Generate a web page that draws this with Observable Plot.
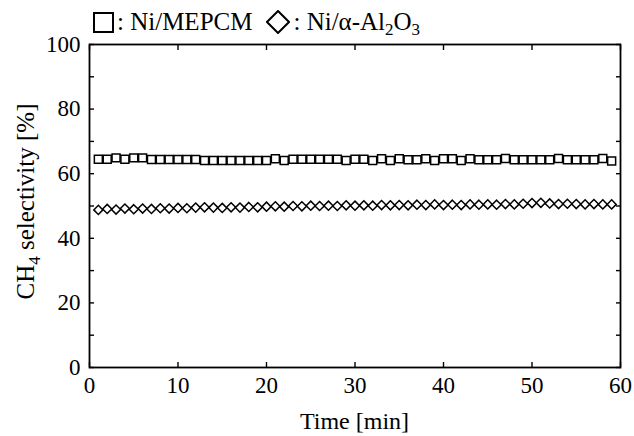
<!DOCTYPE html>
<html>
<head>
<meta charset="utf-8">
<script src="https://cdn.jsdelivr.net/npm/d3@7"></script>
<script src="https://cdn.jsdelivr.net/npm/@observablehq/plot@0.6"></script>
<style>
  html, body { margin: 0; padding: 0; background: #fff; }
  body { width: 634px; height: 436px; overflow: hidden; font-family: 'Liberation Serif', 'Times New Roman', Times, Tinos, 'Nimbus Roman', serif; }
  #legend { height: 34px; display: flex; align-items: center; padding-left: 93px; font-size: 25px; color: #000; box-sizing: border-box; padding-top: 10px; }
  #legend svg { display: block; }
  #legend .lab { margin-left: 3px; white-space: nowrap; }
  #legend sub { font-size: 17px; vertical-align: -5px; line-height: 0; }
  svg text { font-family: 'Liberation Serif', 'Times New Roman', Times, Tinos, 'Nimbus Roman', serif; }
</style>
</head>
<body>
<div id="legend"></div>
<div id="chart"></div>
<script>
// Time [min]
const times = d3.range(1, 60); // 1..59 min, one point per minute

const seriesNames = ["Ni/MEPCM", "Ni/α-Al2O3"];

// CH4 selectivity [%] for Ni/MEPCM (squares)
const mepcm = [
  64.5, 64.5, 64.9, 64.5, 64.9, 64.9, 64.4, 64.4, 64.4, 64.4,
  64.4, 64.4, 64.1, 64.1, 64.1, 64.1, 64.1, 64.1, 64.1, 64.1,
  64.6, 64.1, 64.5, 64.5, 64.5, 64.5, 64.5, 64.5, 64.1, 64.5,
  64.5, 64.1, 64.6, 64.1, 64.6, 64.3, 64.3, 64.6, 64.1, 64.6,
  64.6, 64.1, 64.6, 64.3, 64.3, 64.3, 64.7, 64.3, 64.3, 64.3,
  64.3, 64.3, 64.7, 64.3, 64.3, 64.3, 64.3, 64.7, 63.9
];

// CH4 selectivity [%] for Ni/α-Al2O3 (diamonds)
const alumina = [
  48.8, 49.1, 48.9, 49.2, 49.0, 49.2, 49.1, 49.3, 49.2, 49.4,
  49.3, 49.5, 49.6, 49.5, 49.4, 49.6, 49.5, 49.7, 49.6, 49.8,
  49.9, 49.8, 50.0, 49.9, 50.1, 50.0, 50.1, 50.0, 50.2, 50.1,
  50.2, 50.1, 50.3, 50.2, 50.3, 50.2, 50.4, 50.3, 50.5, 50.3,
  50.4, 50.3, 50.5, 50.4, 50.5, 50.4, 50.6, 50.5, 50.7, 50.9,
  51.0, 50.8, 50.6, 50.7, 50.6, 50.5, 50.6, 50.5, 50.5
];

const xTicks = [0, 10, 20, 30, 40, 50, 60];
const yTicksMajor = [0, 20, 40, 60, 80, 100];
const yTicksAll = [0, 10, 20, 30, 40, 50, 60, 70, 80, 90, 100];

const dataMEPCM = times.map((t, i) => ({t, v: mepcm[i]}));
const dataAl = times.map((t, i) => ({t, v: alumina[i]}));

// Legend (HTML, above the SVG)
const legend = document.getElementById("legend");
legend.innerHTML = `
  <svg width="21" height="21"><rect x="1" y="1" width="19" height="19" fill="#fff" stroke="#000" stroke-width="2"/></svg>
  <span class="lab">: Ni/MEPCM</span>
  <svg width="24" height="24" style="margin-left:14px"><path d="M12,1 L23,12 L12,23 L1,12 Z" fill="#fff" stroke="#000" stroke-width="2"/></svg>
  <span class="lab">: Ni/α-Al<sub>2</sub>O<sub>3</sub></span>`;

const font = "'Liberation Serif', 'Times New Roman', Times, Tinos, 'Nimbus Roman', serif";
const W = 634, H = 402;
const mL = 89, mR = 14, mT = 10, mB = 69;
const noText = () => "";

const chart = Plot.plot({
  width: W,
  height: H,
  marginLeft: mL,
  marginRight: mR,
  marginTop: mT,
  marginBottom: mB,
  style: {fontFamily: font, fontSize: "23px", color: "#000", background: "#fff", overflow: "visible"},
  x: {domain: [0, 60]},
  y: {domain: [0, 100]},
  marks: [
    // inward ticks (no labels)
    Plot.axisX({anchor: "bottom", ticks: xTicks, tickSize: 5, dy: -5, tickFormat: noText, label: null, strokeWidth: 1.4}),
    Plot.axisX({anchor: "top", ticks: xTicks, tickSize: 5, dy: 5, tickFormat: noText, label: null, strokeWidth: 1.4}),
    Plot.axisY({anchor: "left", ticks: yTicksAll, tickSize: 5, dx: 5, tickFormat: noText, label: null, strokeWidth: 1.4}),
    Plot.axisY({anchor: "right", ticks: yTicksAll, tickSize: 5, dx: -5, tickFormat: noText, label: null, strokeWidth: 1.4}),
    // tick labels
    Plot.axisX({anchor: "bottom", ticks: xTicks, tickSize: 0, tickPadding: 9, fontSize: 23, label: null}),
    Plot.axisY({anchor: "left", ticks: yTicksMajor, tickSize: 0, tickPadding: 9, fontSize: 23, label: null}),
    Plot.frame({stroke: "#000", strokeWidth: 1.8}),
    Plot.dot(dataAl, {x: "t", y: "v", symbol: "diamond2", r: 4.1, stroke: "#000", fill: "#fff", strokeWidth: 1.5}),
    Plot.dot(dataMEPCM, {x: "t", y: "v", symbol: "square", r: 4.5, stroke: "#000", fill: "#fff", strokeWidth: 1.5})
  ]
});

document.getElementById("chart").appendChild(chart);

// Axis titles (real text, with subscript)
const svg = d3.select(chart);
const cx = mL + (W - mL - mR) / 2;
svg.append("text")
  .attr("x", cx)
  .attr("y", H - 7)
  .attr("text-anchor", "middle")
  .style("font-family", font)
  .attr("font-size", 24)
  .attr("fill", "#000")
  .text("Time [min]");

const cy = mT + (H - mT - mB) / 2;
const yt = svg.append("text")
  .attr("transform", `translate(34,${cy - 4}) rotate(-90)`)
  .attr("text-anchor", "middle")
  .style("font-family", font)
  .attr("font-size", 25)
  .attr("fill", "#000");
yt.append("tspan").text("CH");
yt.append("tspan").attr("font-size", 17).attr("dy", 6).text("4");
yt.append("tspan").attr("dy", -6).text(" selectivity [%]");
</script>
</body>
</html>
